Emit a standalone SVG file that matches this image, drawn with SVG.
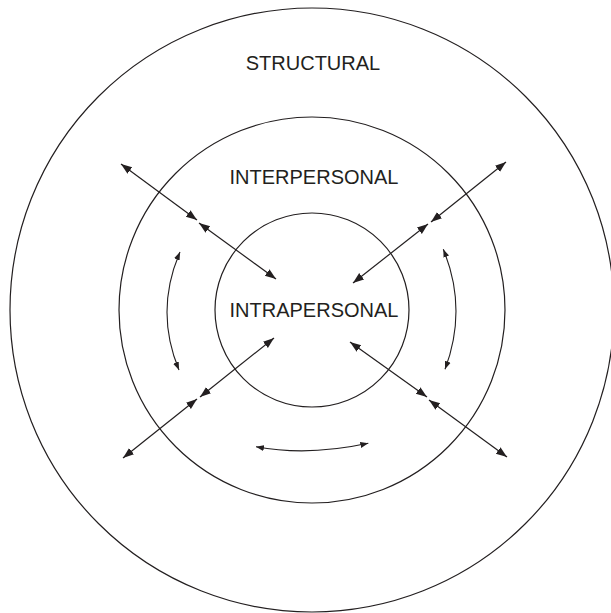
<svg xmlns="http://www.w3.org/2000/svg" width="611" height="613" viewBox="0 0 611 613">
<style>
.ring{fill:none;stroke:#231f20;stroke-width:1.2}
.lbl{font-family:"Liberation Sans",Arial,sans-serif;font-size:20px;fill:#231f20;text-anchor:middle}
.arr{fill:none;stroke:#231f20;stroke-width:1.2;marker-start:url(#ah);marker-end:url(#ah)}
.arc{fill:none;stroke:#231f20;stroke-width:1.1;marker-start:url(#ahs);marker-end:url(#ahs)}
</style>
<defs>
<marker id="ah" markerUnits="userSpaceOnUse" markerWidth="12" markerHeight="10" refX="11" refY="4" orient="auto-start-reverse" viewBox="0 0 12 8">
<path d="M0,0 L11,4 L0,8 Z" fill="#231f20"/>
</marker>
<marker id="ahs" markerUnits="userSpaceOnUse" markerWidth="9" markerHeight="7" refX="8" refY="3" orient="auto-start-reverse" viewBox="0 0 9 6">
<path d="M0,0 L8,3 L0,6 Z" fill="#231f20"/>
</marker>
</defs>
<rect width="611" height="613" fill="#ffffff"/>
<g id="structural">
<circle class="ring" cx="312" cy="310" r="302"/>
<text class="lbl" x="313" y="70">STRUCTURAL</text>
</g>
<g id="interpersonal">
<circle class="ring" cx="312" cy="310" r="193"/>
<text class="lbl" x="314" y="184">INTERPERSONAL</text>
</g>
<g id="intrapersonal">
<circle class="ring" cx="312" cy="310" r="97"/>
<text class="lbl" x="314" y="317">INTRAPERSONAL</text>
</g>
<g id="connectors">
<line class="arr" x1="121" y1="164" x2="197" y2="220"/>
<line class="arr" x1="199" y1="223" x2="276" y2="279"/>
<line class="arr" x1="506" y1="162" x2="431" y2="222"/>
<line class="arr" x1="428" y1="224" x2="353" y2="283"/>
<line class="arr" x1="274" y1="338" x2="200" y2="397"/>
<line class="arr" x1="197" y1="399" x2="123" y2="458"/>
<line class="arr" x1="350" y1="342" x2="427" y2="397"/>
<line class="arr" x1="429" y1="400" x2="507" y2="457"/>
<path class="arc" d="M180,252 Q154.5,311 179,370"/>
<path class="arc" d="M443.3,249.3 Q467.8,308.7 445,369.3"/>
<path class="arc" d="M256,446.7 Q307.8,456.4 368.3,443.3"/>
</g>
</svg>
